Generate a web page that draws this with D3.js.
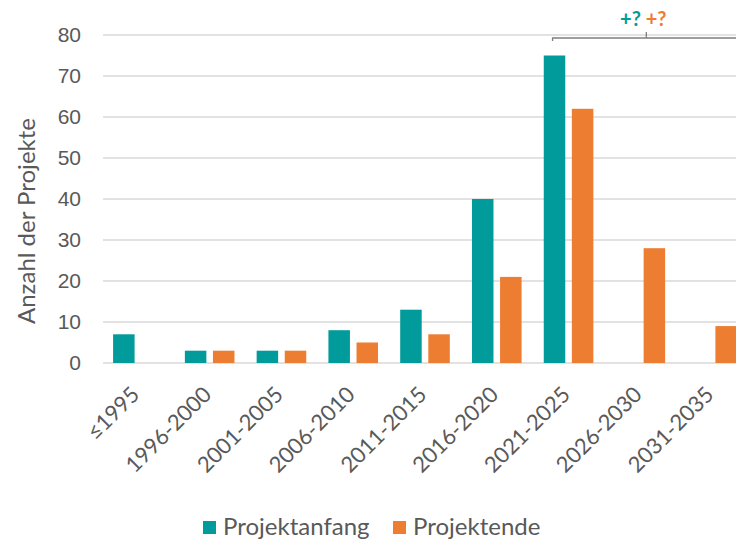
<!DOCTYPE html>
<html>
<head>
<meta charset="utf-8">
<script src="https://cdn.jsdelivr.net/npm/d3@7"></script>
<style>
  body { margin: 0; background: #fff; }
  svg { display: block; font-family: Lato, "Open Sans", sans-serif; }
</style>
</head>
<body>
<div id="chart"></div>
<script>
// Datos del gráfico
const categorias = ["≤1995", "1996-2000", "2001-2005", "2006-2010", "2011-2015",
                    "2016-2020", "2021-2025", "2026-2030", "2031-2035"];
const projektanfang = [7, 3, 3, 8, 13, 40, 75, 0, 0];
const projektende = [0, 3, 3, 5, 7, 21, 62, 28, 9];
const yTicks = [0, 10, 20, 30, 40, 50, 60, 70, 80];
const series = [
    { name: "Projektanfang", values: projektanfang, color: "#009B9A" },
    { name: "Projektende", values: projektende, color: "#ED7D31" }
];

const W = 736, H = 541;
const textColor = "#595959";

const svg = d3.select("#chart").append("svg")
    .attr("width", W).attr("height", H);

// Escalas
const x = d3.scaleBand().domain(categorias).range([102, 748]);
const y = d3.scaleLinear().domain([0, 80]).range([363, 35]);
const xc = (c) => x(c) + x.bandwidth() / 2;

// Rejilla
svg.append("g")
    .selectAll("line")
    .data(yTicks)
    .join("line")
    .attr("x1", 103).attr("x2", W)
    .attr("y1", (d) => y(d)).attr("y2", (d) => y(d))
    .attr("stroke", "#D9D9D9")
    .attr("stroke-width", 1.5);

// Eje Y
const yAxis = svg.append("g")
    .attr("transform", "translate(81,0)")
    .call(d3.axisLeft(y).tickValues(yTicks).tickSize(0).tickPadding(0));
yAxis.select(".domain").remove();
yAxis.selectAll("text")
    .attr("fill", textColor)
    .style("font-size", "21px");

svg.append("text")
    .attr("transform", `translate(35,221) rotate(-90)`)
    .attr("text-anchor", "middle")
    .attr("fill", textColor)
    .style("font-size", "24px")
    .text("Anzahl der Projekte");

// Barras
const barW = 21.5, gap = 3.3;
series.forEach((s, si) => {
    svg.append("g")
        .selectAll("rect")
        .data(categorias.map((c, i) => ({ c, v: s.values[i] })).filter((d) => d.v > 0))
        .join("rect")
        .attr("x", (d) => (si === 0 ? xc(d.c) - gap - barW : xc(d.c) + gap))
        .attr("y", (d) => y(d.v))
        .attr("width", barW)
        .attr("height", (d) => y(0) - y(d.v))
        .attr("fill", s.color);
});

// Etiquetas del eje X
svg.append("g")
    .selectAll("text")
    .data(categorias)
    .join("text")
    .attr("transform", (d) => `translate(${xc(d) + 3},${396}) rotate(-45)`)
    .attr("text-anchor", "end")
    .attr("fill", textColor)
    .style("font-size", "22px")
    .text((d) => d);

// Corchete "+? +?"
const bx1 = xc("2021-2025") - 16;
const bx2 = xc("2031-2035") + 28;
const bmid = (bx1 + bx2) / 2;
const by = 38;
svg.append("path")
    .attr("d", `M${bx1},${by + 3}V${by}H${bx2}M${bmid},${by}V${by - 6}`)
    .attr("fill", "none")
    .attr("stroke", "#7F7F7F")
    .attr("stroke-width", 1.3);

const lbl = svg.append("text")
    .attr("x", bmid - 3)
    .attr("y", 26)
    .attr("text-anchor", "middle")
    .style("font-size", "20px")
    .style("font-weight", "bold");
lbl.append("tspan").attr("fill", series[0].color).text("+?");
lbl.append("tspan").attr("fill", series[1].color).text(" +?");

// Leyenda
const legend = svg.append("g")
    .selectAll("g")
    .data(series)
    .join("g")
    .attr("transform", (d, i) => `translate(${i === 0 ? 203 : 393},521)`);
legend.append("rect")
    .attr("width", 13).attr("height", 13)
    .attr("fill", (d) => d.color);
legend.append("text")
    .attr("x", 20).attr("y", 14)
    .attr("fill", textColor)
    .style("font-size", "24px")
    .text((d) => d.name);
</script>
</body>
</html>
